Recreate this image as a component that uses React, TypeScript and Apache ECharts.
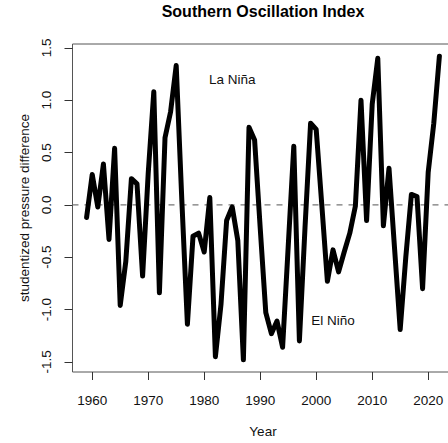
import React, { useEffect, useRef } from "react";
import * as echarts from "echarts";

const years = [
  1959, 1960, 1961, 1962, 1963, 1964, 1965, 1966, 1967, 1968, 1969, 1970,
  1971, 1972, 1973, 1974, 1975, 1976, 1977, 1978, 1979, 1980, 1981, 1982,
  1983, 1984, 1985, 1986, 1987, 1988, 1989, 1990, 1991, 1992, 1993, 1994,
  1995, 1996, 1997, 1998, 1999, 2000, 2001, 2002, 2003, 2004, 2005, 2006,
  2007, 2008, 2009, 2010, 2011, 2012, 2013, 2014, 2015, 2016, 2017, 2018,
  2019, 2020, 2021, 2022,
];

const soi = [
  -0.12, 0.29, -0.02, 0.39, -0.33, 0.54, -0.96, -0.54, 0.25, 0.2, -0.68, 0.3,
  1.08, -0.84, 0.64, 0.89, 1.33, 0.05, -1.14, -0.3, -0.27, -0.45, 0.07, -1.45,
  -0.95, -0.15, -0.02, -0.34, -1.48, 0.74, 0.62, -0.22, -1.03, -1.23, -1.11, -1.36,
  -0.4, 0.56, -1.3, -0.22, 0.78, 0.72, 0.0, -0.73, -0.43, -0.64, -0.45, -0.27,
  -0.01, 1.0, -0.15, 0.96, 1.4, -0.2, 0.35, -0.42, -1.19, -0.5, 0.1, 0.08,
  -0.8, 0.31, 0.78, 1.42,
];

const xTicks = [1960, 1970, 1980, 1990, 2000, 2010, 2020];
const yTicks = [-1.5, -1.0, -0.5, 0.0, 0.5, 1.0, 1.5];

const annotations = [
  { name: "La Niña", coord: [1985, 1.2] },
  { name: "El Niño", coord: [2003, -1.1] },
];

const FONT = "'Liberation Sans', Arial, Helvetica, sans-serif";

export default function App() {
  const ref = useRef<HTMLDivElement>(null);

  useEffect(() => {
    if (!ref.current) return;
    const chart = echarts.init(ref.current, null, { renderer: "svg" });

    const xLo = Math.min(...years);
    const xHi = Math.max(...years);
    const yLo = Math.min(...soi);
    const yHi = Math.max(...soi);
    const xPad = (xHi - xLo) * 0.04;
    const yPad = (yHi - yLo) * 0.04;
    const xMin = xLo - xPad;
    const xMax = xHi + xPad;

    chart.setOption({
      animation: false,
      backgroundColor: "#ffffff",
      textStyle: { fontFamily: FONT },
      title: {
        text: "Southern Oscillation Index",
        left: "center",
        top: 3,
        padding: 0,
        textStyle: {
          fontFamily: FONT,
          fontSize: 16,
          fontWeight: "bold",
          color: "#000",
        },
      },
      grid: {
        left: 72.5,
        right: 72.5,
        top: 44,
        bottom: 68,
        show: true,
        borderColor: "#555",
        borderWidth: 1,
        backgroundColor: "transparent",
        containLabel: false,
      },
      xAxis: {
        type: "value",
        min: xMin,
        max: xMax,
        name: "Year",
        nameLocation: "middle",
        nameGap: 52,
        nameTextStyle: { fontFamily: FONT, fontSize: 13.5, color: "#111" },
        axisLine: { show: false, onZero: false },
        splitLine: { show: false },
        axisTick: {
          show: true,
          length: 8,
          inside: false,
          customValues: xTicks,
          lineStyle: { color: "#333", width: 1 },
        },
        axisLabel: {
          show: true,
          customValues: xTicks,
          margin: 21,
          fontFamily: FONT,
          fontSize: 13.5,
          color: "#111",
          formatter: (v: number) => String(v),
        },
      },
      yAxis: {
        type: "value",
        min: yLo - yPad,
        max: yHi + yPad,
        name: "studentized pressure difference",
        nameLocation: "middle",
        nameGap: 41,
        nameRotate: 90,
        nameTextStyle: { fontFamily: FONT, fontSize: 13.5, color: "#111" },
        axisLine: { show: false, onZero: false },
        splitLine: { show: false },
        axisTick: {
          show: true,
          length: 8,
          inside: false,
          customValues: yTicks,
          lineStyle: { color: "#333", width: 1 },
        },
        axisLabel: {
          show: true,
          customValues: yTicks,
          rotate: 90,
          margin: 19,
          fontFamily: FONT,
          fontSize: 13.5,
          color: "#111",
          formatter: (v: number) => v.toFixed(1),
        },
      },
      series: [
        {
          type: "line",
          data: [
            [xMin, 0],
            [xMax, 0],
          ],
          showSymbol: false,
          symbol: "none",
          silent: true,
          z: 1,
          lineStyle: { color: "#777", width: 1.2, type: [6, 6] },
        },
        {
          type: "line",
          data: years.map((yr, i) => [yr, soi[i]]),
          showSymbol: false,
          symbol: "none",
          lineStyle: {
            color: "#000",
            width: 5,
            cap: "round",
            join: "round",
          },
          z: 3,
          markPoint: {
            silent: true,
            symbol: "circle",
            symbolSize: 0,
            label: {
              show: true,
              position: "inside",
              formatter: "{b}",
              fontFamily: FONT,
              fontSize: 13.5,
              color: "#111",
            },
            data: annotations.map((a) => ({ name: a.name, coord: a.coord })),
          },
        },
      ],
    });

    return () => chart.dispose();
  }, []);

  return (
    <div
      style={{
        position: "fixed",
        left: 0,
        top: 0,
        width: 448,
        height: 443,
        overflow: "hidden",
        background: "#fff",
      }}
    >
      <div ref={ref} style={{ width: 526, height: 443 }} />
    </div>
  );
}
